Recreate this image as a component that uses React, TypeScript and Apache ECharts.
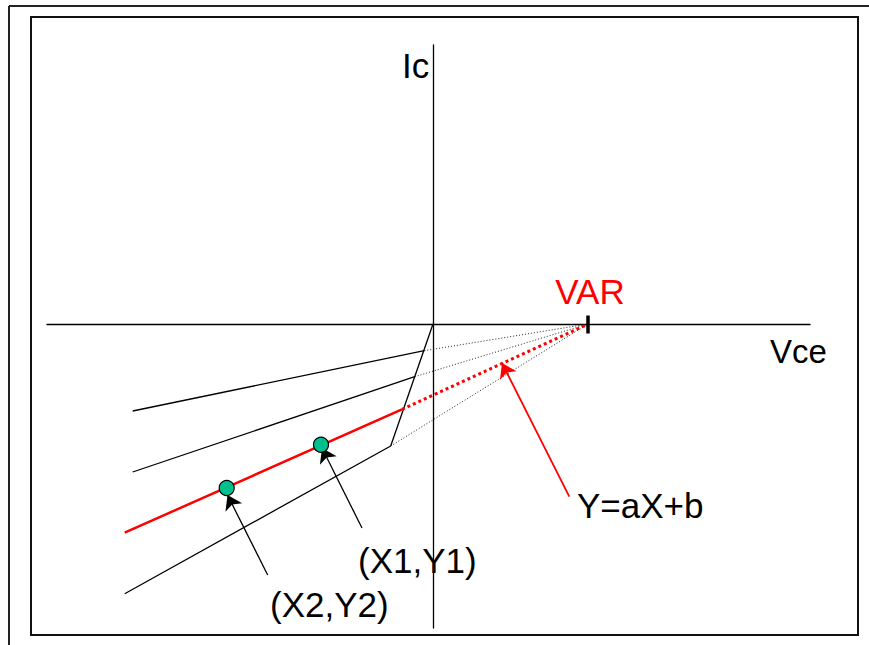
import React, { useEffect, useRef } from "react";
import * as echarts from "echarts";

// Data units: Vce (x) and Ic (y), arbitrary units
const X_RANGE = [-38.6, 37.7];
const Y_RANGE = [-30.4, 27.9];
const VAR_X = 15.5;
const varTick = [[VAR_X, 0.85], [VAR_X, -0.95]];

// saturation "knee" line from origin
const kneeLine = [[0, 0], [-4.23, -12.2]];

// characteristic curves: left start and knee point
const blackStarts = [[-30.03, -8.7], [-30.03, -14.8], [-30.83, -26.97]];
const blackKnees = [[-0.87, -2.67], [-1.83, -5.27], [-4.23, -12.2]];
const redStart = [-30.83, -20.87];
const redKnee = [-3.1, -8.53];

// measured points (X1,Y1), (X2,Y2)
const measuredPoints = [[-11.2, -12.07], [-20.63, -16.4]];

// annotation arrows [from, to]
const blackArrows = [
  [[-7.1, -20.4], [-11.1, -12.4]],
  [[-16.53, -25.1], [-20.55, -17.1]],
];
const redArrow = [[13.63, -17.27], [6.9, -3.9]];

const FONT = "'Liberation Sans', Arial, sans-serif";

export default function App() {
  const ref = useRef<HTMLDivElement>(null);
  useEffect(() => {
    if (!ref.current) return;
    const chart = echarts.init(ref.current, undefined, { renderer: "svg" });
    const seg = (a: number[], b: number[], color: string, width: number, type: any, z = 2) => ({
      type: "line",
      data: [a, b],
      symbol: "none",
      silent: true,
      z,
      lineStyle: { color, width, type },
    });
    const series: any[] = [];
    blackStarts.forEach((s, i) => {
      series.push(seg(s, blackKnees[i], "#000", 1.3, "solid"));
      series.push(seg(blackKnees[i], [VAR_X, 0], "#222", 1, [1, 2]));
    });
    series.push(seg(kneeLine[0], kneeLine[1], "#000", 1.3, "solid"));
    series.push(seg(redKnee, [VAR_X, 0], "#ff0000", 3, [3, 3], 3));
    series.push(seg(redStart, redKnee, "#ff0000", 2.5, "solid", 3));
    series.push(seg(varTick[0], varTick[1], "#000", 3.5, "solid", 4));
    series.push({
      type: "scatter",
      data: measuredPoints,
      symbol: "circle",
      symbolSize: 15,
      z: 5,
      itemStyle: { color: "#00bf8f", borderColor: "#000", borderWidth: 1.2, opacity: 1 },
    });
    const arrowLines = (arrs: any[], color: string, width: number) => ({
      type: "line",
      data: [],
      z: 6,
      markLine: {
        silent: true,
        symbol: ["none", "arrow"],
        symbolSize: 14,
        label: { show: false },
        lineStyle: { color, width, type: "solid" },
        data: arrs.map((a) => [{ coord: a[0] }, { coord: a[1] }]),
      },
    });
    series.push(arrowLines(blackArrows, "#000", 1.3));
    series.push(arrowLines([redArrow], "#ff0000", 1.8));

    const txt = (text: string, x: number, y: number, size = 35, color = "#000", align = "left") => ({
      type: "text",
      x,
      y,
      style: {
        text,
        fill: color,
        font: `${size}px ${FONT}`,
        textAlign: align,
        textVerticalAlign: "middle",
      },
      z: 10,
    });

    chart.setOption({
      animation: false,
      grid: { left: 47, top: 45, width: 763, height: 583, containLabel: false },
      xAxis: {
        type: "value",
        min: X_RANGE[0],
        max: X_RANGE[1],
        axisLine: { show: true, onZero: true, lineStyle: { color: "#000", width: 1.3 } },
        axisTick: { show: false },
        axisLabel: { show: false },
        splitLine: { show: false },
      },
      yAxis: {
        type: "value",
        min: Y_RANGE[0],
        max: Y_RANGE[1],
        axisLine: { show: true, onZero: true, lineStyle: { color: "#000", width: 1.3 } },
        axisTick: { show: false },
        axisLabel: { show: false },
        splitLine: { show: false },
      },
      series,
      graphic: [
        { type: "line", shape: { x1: 9, y1: 6, x2: 869, y2: 6 }, style: { stroke: "#222", lineWidth: 2 } },
        { type: "line", shape: { x1: 9, y1: 6, x2: 9, y2: 645 }, style: { stroke: "#222", lineWidth: 2 } },
        {
          type: "rect",
          shape: { x: 31, y: 17, width: 827, height: 618 },
          style: { stroke: "#111", lineWidth: 2, fill: "none" },
        },
        txt("Ic", 402, 65),
        txt("VAR", 590, 291, 35, "#ff0000", "center"),
        txt("Vce", 770, 351, 33),
        txt("Y=aX+b", 577, 505),
        txt("(X1,Y1)", 358, 560),
        txt("(X2,Y2)", 270, 604),
      ],
    });
    return () => chart.dispose();
  }, []);
  return (
    <div
      ref={ref}
      style={{ position: "fixed", left: 0, top: 0, width: 869, height: 645, background: "#fff" }}
    />
  );
}
